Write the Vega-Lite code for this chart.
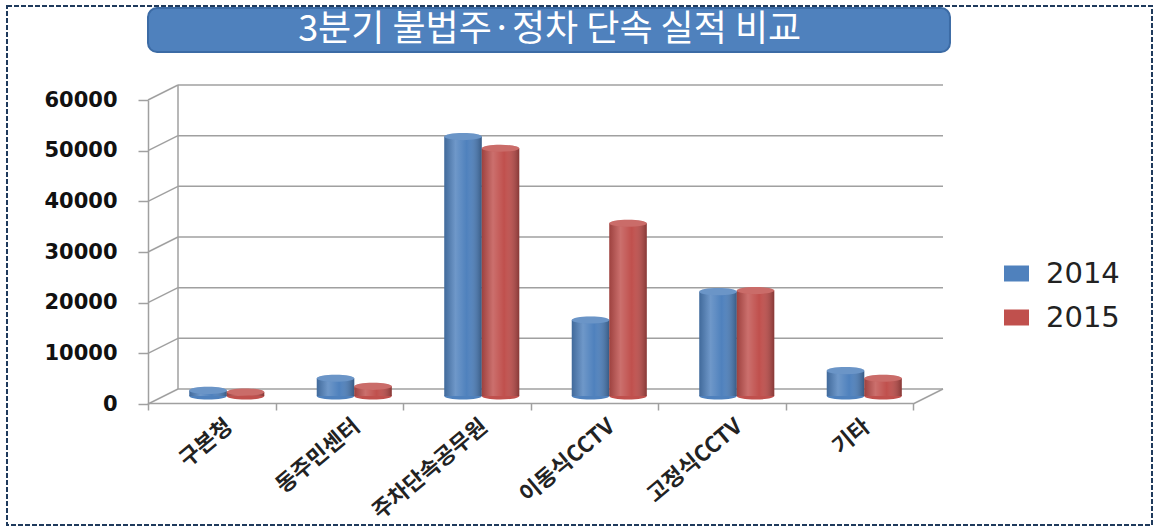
{
  "$schema": "https://vega.github.io/schema/vega-lite/v6.json",
  "background": "white",
  "autosize": {"type": "none"},
  "padding": {"left": 7, "top": 6, "right": 3, "bottom": 3},
  "width": 1145,
  "height": 519,
  "view": {"stroke": "#1F3A5C", "strokeWidth": 2, "strokeDash": [5, 2], "fill": null},
  "datasets": {
    "main": [
      {"category": "구본청", "year": "2014", "value": 1100},
      {"category": "구본청", "year": "2015", "value": 800},
      {"category": "동주민센터", "year": "2014", "value": 3500},
      {"category": "동주민센터", "year": "2015", "value": 1900},
      {"category": "주차단속공무원", "year": "2014", "value": 51200},
      {"category": "주차단속공무원", "year": "2015", "value": 48900},
      {"category": "이동식CCTV", "year": "2014", "value": 15000},
      {"category": "이동식CCTV", "year": "2015", "value": 34100},
      {"category": "고정식CCTV", "year": "2014", "value": 20600},
      {"category": "고정식CCTV", "year": "2015", "value": 20800},
      {"category": "기타", "year": "2014", "value": 5000},
      {"category": "기타", "year": "2015", "value": 3500}
    ],
    "ticks": [{"v": 0}, {"v": 10000}, {"v": 20000}, {"v": 30000}, {"v": 40000}, {"v": 50000}, {"v": 60000}],
    "one": [{"k": 1}],
    "heading": [{"t": "3분기 불법주·정차 단속 실적 비교"}]
  },
  "layer": [
    {
      "data": {"name": "ticks"},
      "mark": {"type": "rule", "color": "#A0A0A0", "strokeWidth": 1.5, "xOffset": 30, "x2Offset": 30, "yOffset": -15},
      "encoding": {
        "y": {"field": "v", "type": "quantitative", "title": null},
        "x": {"datum": "구본청", "bandPosition": 0, "title": null},
        "x2": {"datum": "기타", "bandPosition": 1}
      }
    },
    {
      "data": {"name": "ticks"},
      "mark": {"type": "rule", "color": "#A0A0A0", "strokeWidth": 1.5, "x2Offset": 30, "y2Offset": -15},
      "encoding": {
        "y": {"field": "v", "type": "quantitative", "title": null},
        "y2": {"field": "v"},
        "x": {"datum": "구본청", "bandPosition": 0, "title": null},
        "x2": {"datum": "구본청", "bandPosition": 0}
      }
    },
    {
      "data": {"name": "one"},
      "mark": {"type": "rule", "color": "#A0A0A0", "strokeWidth": 1.5, "xOffset": 30, "yOffset": -15, "y2Offset": -15},
      "encoding": {
        "x": {"datum": "구본청", "bandPosition": 0, "title": null},
        "y": {"datum": 0, "type": "quantitative", "title": null},
        "y2": {"datum": 60000}
      }
    },
    {
      "data": {"name": "one"},
      "mark": {"type": "rule", "color": "#A0A0A0", "strokeWidth": 1.5, "x2Offset": 30, "y2Offset": -15},
      "encoding": {
        "x": {"datum": "기타", "bandPosition": 1, "title": null},
        "x2": {"datum": "기타", "bandPosition": 1},
        "y": {"datum": 0, "type": "quantitative", "title": null},
        "y2": {"datum": 0}
      }
    },
    {
      "data": {"name": "main"},
      "mark": {"type": "point", "filled": true, "opacity": 1, "strokeWidth": 0, "shape": "M-1,0A1,0.19,0,1,0,1,0A1,0.19,0,1,0,-1,0Z", "size": 1406, "yOffset": -8},
      "encoding": {
        "x": {"field": "category", "type": "nominal", "title": null},
        "xOffset": {"field": "year", "type": "nominal"},
        "y": {"datum": 0, "type": "quantitative", "title": null},
        "color": {
          "field": "year", "type": "nominal", "title": null,
          "legend": {
            "orient": "none", "legendX": 995, "legendY": 253, "padding": 0,
            "symbolType": "M-1,-0.64H1V0.64H-1Z", "symbolSize": 625, "symbolStrokeWidth": 0,
            "labelFont": "DejaVu Sans", "labelFontSize": 29, "labelColor": "#222222",
            "labelOffset": 15, "rowPadding": 14
          }
        }
      }
    },
    {
      "data": {"name": "main"},
      "mark": {"type": "bar", "yOffset": -8, "y2Offset": -8},
      "encoding": {
        "x": {
          "field": "category", "type": "nominal", "title": null, "sort": null,
          "scale": {"domain": ["구본청", "동주민센터", "주차단속공무원", "이동식CCTV", "고정식CCTV", "기타"], "range": [141, 906], "paddingInner": 0, "paddingOuter": 0}
        },
        "xOffset": {"field": "year", "type": "nominal", "scale": {"paddingInner": 0, "paddingOuter": 0.7, "align": 0.786}},
        "y": {
          "field": "value", "type": "quantitative", "title": null,
          "scale": {"domain": [0, 60000], "range": [398, 94], "nice": false, "zero": true}
        },
        "color": {
          "field": "year", "type": "nominal", "title": null,
          "scale": {"domain": ["2014", "2015"], "range": ["#4F81BD", "#C0504D"]},
          "legend": {
            "orient": "none", "legendX": 995, "legendY": 253, "padding": 0,
            "symbolType": "M-1,-0.64H1V0.64H-1Z", "symbolSize": 625, "symbolStrokeWidth": 0,
            "labelFont": "DejaVu Sans", "labelFontSize": 29, "labelColor": "#222222",
            "labelOffset": 15, "rowPadding": 14
          }
        }
      }
    },
    {
      "data": {"name": "main"},
      "mark": {
        "type": "bar", "yOffset": -8, "y2Offset": -8,
        "fill": {"gradient": "linear", "x1": 0, "y1": 0, "x2": 1, "y2": 0, "stops": [
          {"offset": 0, "color": "rgba(0,0,0,0.18)"},
          {"offset": 0.3, "color": "rgba(255,255,255,0.18)"},
          {"offset": 0.6, "color": "rgba(255,255,255,0.0)"},
          {"offset": 1, "color": "rgba(0,0,0,0.3)"}
        ]}
      },
      "encoding": {
        "x": {"field": "category", "type": "nominal", "title": null},
        "xOffset": {"field": "year", "type": "nominal"},
        "y": {"field": "value", "type": "quantitative", "title": null}
      }
    },
    {
      "data": {"name": "main"},
      "mark": {"type": "point", "filled": true, "opacity": 1, "strokeWidth": 0, "shape": "M-1,0A1,0.19,0,1,0,1,0A1,0.19,0,1,0,-1,0Z", "size": 1406, "yOffset": -8},
      "encoding": {
        "x": {"field": "category", "type": "nominal", "title": null},
        "xOffset": {"field": "year", "type": "nominal"},
        "y": {"field": "value", "type": "quantitative", "title": null},
        "color": {"field": "year", "type": "nominal", "title": null}
      }
    },
    {
      "data": {"name": "main"},
      "mark": {"type": "point", "filled": true, "strokeWidth": 0, "shape": "M-1,0A1,0.19,0,1,0,1,0A1,0.19,0,1,0,-1,0Z", "size": 1406, "yOffset": -8, "opacity": 0.16, "color": "white"},
      "encoding": {
        "x": {"field": "category", "type": "nominal", "title": null},
        "xOffset": {"field": "year", "type": "nominal"},
        "y": {"field": "value", "type": "quantitative", "title": null}
      }
    },
    {
      "data": {"name": "heading"},
      "mark": {"type": "rect", "fill": "#4F81BD", "stroke": "#3C6BA5", "strokeWidth": 2, "cornerRadius": 9},
      "encoding": {
        "x": {"datum": "구본청", "bandPosition": 0, "title": null},
        "x2": {"datum": "기타", "bandPosition": 1.29},
        "y": {"datum": 78150, "type": "quantitative", "title": null},
        "y2": {"datum": 69470}
      }
    },
    {
      "data": {"name": "heading"},
      "mark": {"type": "text", "font": "Noto Sans CJK KR", "fontSize": 36, "color": "white", "align": "center", "baseline": "middle"},
      "encoding": {
        "x": {"datum": "이동식CCTV", "bandPosition": 0.15, "title": null},
        "y": {"datum": 73800, "type": "quantitative", "title": null},
        "text": {"field": "t"}
      }
    }
  ],
  "config": {
    "axis": {"grid": false},
    "axisX": {
      "offset": -122, "labelAngle": -40, "labelAlign": "right", "labelBaseline": "middle",
      "tickBand": "extent", "tickSize": 7, "labelPadding": 13, "labelOffset": 17,
      "labelFont": "Noto Sans CJK KR", "labelFontWeight": "bold", "labelFontSize": 22, "labelColor": "#222222",
      "domainColor": "#A0A0A0", "tickColor": "#A0A0A0", "domainWidth": 1.5, "tickWidth": 1.5,
      "labelOverlap": false, "labelLimit": 0
    },
    "axisY": {
      "offset": -141, "tickSize": 10, "labelPadding": 21, "tickCount": 6, "format": "d",
      "labelFont": "DejaVu Sans", "labelFontWeight": "bold", "labelFontSize": 21, "labelColor": "#111111",
      "domainColor": "#A0A0A0", "tickColor": "#A0A0A0", "domainWidth": 1.5, "tickWidth": 1.5
    }
  }
}
